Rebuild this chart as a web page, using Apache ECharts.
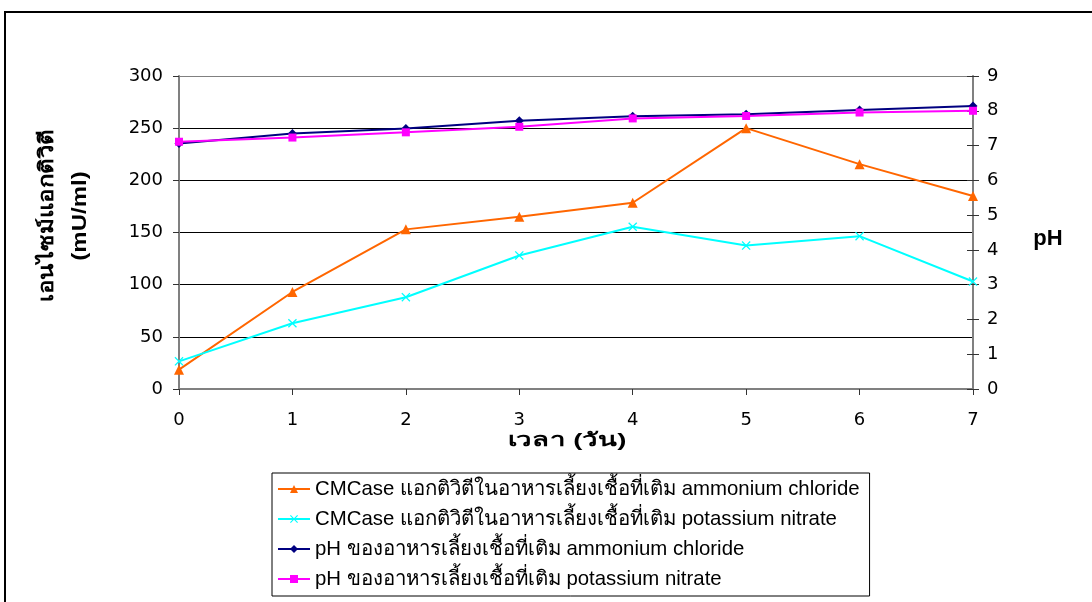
<!DOCTYPE html>
<html>
<head>
<meta charset="utf-8">
<style>
  html, body { margin: 0; padding: 0; background: #fff; }
  #chart { width: 1092px; height: 602px; }
</style>
<script src="https://cdn.jsdelivr.net/npm/echarts@6/dist/echarts.min.js"></script>
</head>
<body>
<div id="chart"></div>
<script>
// Days of cultivation
const days = ['0', '1', '2', '3', '4', '5', '6', '7'];

// CMCase activity (mU/ml), left axis
const cmcaseAmmonium = [18.5, 93, 153, 165, 178.5, 250, 215.5, 185];
const cmcasePotassium = [26.5, 63, 88, 128, 155.5, 137.5, 146.5, 103];

// pH of the medium, right axis
const phAmmonium = [7.06, 7.35, 7.49, 7.71, 7.84, 7.90, 8.02, 8.14];
const phPotassium = [7.11, 7.23, 7.38, 7.54, 7.78, 7.85, 7.95, 8.00];

// Series names shown in the legend
const names = [
  'CMCase แอกติวิตีในอาหารเลี้ยงเชื้อที่เติม ammonium chloride',
  'CMCase แอกติวิตีในอาหารเลี้ยงเชื้อที่เติม potassium nitrate',
  'pH ของอาหารเลี้ยงเชื้อที่เติม ammonium chloride',
  'pH ของอาหารเลี้ยงเชื้อที่เติม potassium nitrate'
];

// Axis titles
const leftTitle = 'เอนไซม์แอกติวิตี\n(mU/ml)';
const bottomTitle = 'เวลา (วัน)';
const rightTitle = 'pH';

const FONT = '"Liberation Sans", Arial, "Noto Sans", sans-serif';
const TICK_FONT = '"DejaVu Sans", "Liberation Sans", sans-serif';
const crossSymbol = 'path://M0,1L1,0L5,4L9,0L10,1L6,5L10,9L9,10L5,6L1,10L0,9L4,5Z';

const chart = echarts.init(document.getElementById('chart'), null, { renderer: 'canvas' });

const tickLabel = { color: '#000', fontSize: 18, fontFamily: TICK_FONT };

chart.setOption({
  animation: false,
  backgroundColor: '#fff',
  textStyle: { fontFamily: FONT },
  grid: { left: 179, right: 119, top: 76, bottom: 213, containLabel: false },
  xAxis: {
    type: 'category',
    data: days,
    boundaryGap: false,
    axisLine: { show: true, lineStyle: { color: '#808080', width: 2 } },
    axisTick: { show: true, length: 6, lineStyle: { color: '#333' } },
    axisLabel: Object.assign({ margin: 22 }, tickLabel),
    splitLine: { show: false }
  },
  yAxis: [
    {
      type: 'value', min: 0, max: 300, interval: 50, position: 'left',
      axisLine: { show: true, lineStyle: { color: '#808080', width: 2 } },
      axisTick: { show: true, length: 6, lineStyle: { color: '#333' } },
      axisLabel: Object.assign({ margin: 16 }, tickLabel),
      splitLine: {
        show: true,
        lineStyle: { color: ['#000', '#000', '#000', '#000', '#000', '#000', '#808080'], width: 1 }
      }
    },
    {
      type: 'value', min: 0, max: 9, interval: 1, position: 'right',
      axisLine: { show: true, lineStyle: { color: '#808080', width: 2 } },
      axisTick: { show: true, length: 6, lineStyle: { color: '#333' } },
      axisLabel: Object.assign({ margin: 14 }, tickLabel),
      splitLine: { show: false }
    },
    {
      // inner half of the crossing ticks on the pH axis
      type: 'value', min: 0, max: 9, interval: 1, position: 'right',
      axisLine: { show: false },
      axisTick: { show: true, inside: true, length: 6, lineStyle: { color: '#333' } },
      axisLabel: { show: false },
      splitLine: { show: false }
    }
  ],
  legend: {
    orient: 'vertical',
    left: 272,
    top: 473,
    backgroundColor: '#fff',
    borderColor: '#000',
    borderWidth: 1,
    padding: [5, 10, 6, 5],
    itemWidth: 32,
    itemHeight: 10,
    itemGap: 8,
    data: names,
    textStyle: { color: '#000', fontSize: 20.4, fontFamily: FONT, lineHeight: 22 }
  },
  series: [
    {
      name: names[0], type: 'line', yAxisIndex: 0, data: cmcaseAmmonium,
      symbol: 'triangle', symbolSize: 10, showAllSymbol: true,
      lineStyle: { color: '#FF6600', width: 2 },
      itemStyle: { color: '#FF6600' }
    },
    {
      name: names[1], type: 'line', yAxisIndex: 0, data: cmcasePotassium,
      symbol: crossSymbol, symbolSize: 9, showAllSymbol: true,
      lineStyle: { color: '#00FFFF', width: 2 },
      itemStyle: { color: '#00FFFF' }
    },
    {
      name: names[2], type: 'line', yAxisIndex: 1, data: phAmmonium,
      symbol: 'diamond', symbolSize: 9, showAllSymbol: true,
      lineStyle: { color: '#000080', width: 2 },
      itemStyle: { color: '#000080' }
    },
    {
      name: names[3], type: 'line', yAxisIndex: 1, data: phPotassium,
      symbol: 'rect', symbolSize: 8, showAllSymbol: true,
      lineStyle: { color: '#FF00FF', width: 2 },
      itemStyle: { color: '#FF00FF' }
    }
  ],
  graphic: [
    {
      type: 'rect', silent: true, z: -1,
      shape: { x: 5, y: 12, width: 1200, height: 700 },
      style: { fill: 'none', stroke: '#000', lineWidth: 2 }
    },
    {
      type: 'text', x: 64, y: 216, rotation: Math.PI / 2, scaleX: 1.2,
      style: {
        text: leftTitle, fill: '#000',
        font: 'bold 20px ' + FONT, align: 'center', verticalAlign: 'middle', lineHeight: 33
      }
    },
    {
      type: 'text', x: 567, y: 441, scaleX: 1.45,
      style: {
        text: bottomTitle, fill: '#000',
        font: 'bold 19px ' + FONT, align: 'center', verticalAlign: 'middle'
      }
    },
    {
      type: 'text', x: 1048, y: 239,
      style: {
        text: rightTitle, fill: '#000',
        font: 'bold 22px ' + FONT, align: 'center', verticalAlign: 'middle'
      }
    }
  ]
});
</script>
</body>
</html>
